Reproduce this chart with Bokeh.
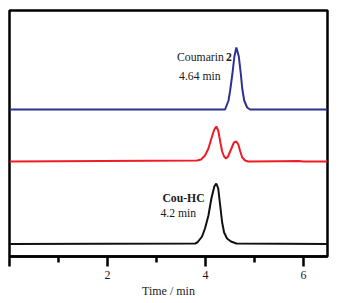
from bokeh.plotting import figure
from bokeh.models import Range1d, FixedTicker, Label
from bokeh.embed import file_html
from bokeh.resources import INLINE

# Chromatogram traces (time in min, signal in arbitrary units, offset per trace)
blue_t = [0.0, 4.40, 4.47, 4.50, 4.55, 4.59, 4.63, 4.68, 4.72, 4.75, 4.79, 4.85, 4.91, 6.49]
blue_y = [147, 147, 156, 165, 183, 200, 209, 200, 183, 168, 156, 149, 147, 147]

red_t = [0.0, 3.83, 3.91, 3.99, 4.06, 4.12, 4.18, 4.22, 4.26, 4.30, 4.34, 4.38, 4.42,
         4.46, 4.52, 4.58, 4.63, 4.67, 4.71, 4.75, 4.81, 4.87, 5.5, 5.9, 6.0, 6.49]
red_y = [95, 96, 97, 101, 108, 118, 127, 130, 126, 115, 105, 100, 98,
         100, 107, 114, 115, 112, 105, 99, 96, 95, 95.3, 95.5, 95, 95]

black_t = [0.0, 3.79, 3.83, 3.85, 3.93, 3.99, 4.06, 4.12, 4.18, 4.22, 4.26, 4.30,
           4.34, 4.38, 4.44, 4.52, 4.63, 6.49]
black_y = [12.5, 13, 14, 15, 20, 28, 41, 58, 70, 73, 68, 51,
           34, 24, 18, 15, 13, 12.5]

x_ticks = [0, 2, 4, 6]
x_minor = [1, 3, 5]
x_label = "Time / min"

FONT = "Liberation Serif"

p = figure(width=343, height=303, output_backend="svg", toolbar_location=None,
           x_range=Range1d(0, 6.49), y_range=Range1d(0, 246),
           y_axis_type=None, min_border_left=9, min_border_right=16,
           min_border_top=10, min_border_bottom=47)
p.background_fill_color = "white"
p.border_fill_color = "white"
p.grid.visible = False
p.outline_line_color = "black"
p.outline_line_width = 2.5

p.line(blue_t, blue_y, line_color="#2e3192", line_width=2)
p.line(red_t, red_y, line_color="#ee1c25", line_width=2)
p.line(black_t, black_y, line_color="#111111", line_width=2)

ax = p.xaxis[0]
ax.ticker = FixedTicker(ticks=x_ticks, minor_ticks=x_minor)
ax.major_label_overrides = {0: ""}
ax.axis_line_width = 2.5
ax.major_tick_line_width = 2.5
ax.minor_tick_line_width = 2.5
ax.major_tick_in = 0
ax.major_tick_out = 10
ax.minor_tick_in = 0
ax.minor_tick_out = 6
ax.major_label_standoff = 4
ax.major_label_text_font = FONT
ax.major_label_text_font_size = "12px"
ax.major_label_text_color = "#1a1a1a"
ax.axis_label = x_label
ax.axis_label_text_font = FONT
ax.axis_label_text_font_style = "normal"
ax.axis_label_text_font_size = "12px"
ax.axis_label_text_color = "#1a1a1a"
ax.axis_label_standoff = 2

def lab(x, y, text, bold=False):
    p.add_layout(Label(x=x, y=y, text=text, text_font=FONT, text_font_size="11.7px",
                       text_font_style="bold" if bold else "normal",
                       text_color="#1a1a1a", text_baseline="alphabetic"))

lab(3.42, 199.3, "Coumarin")
lab(4.42, 199.3, "2", bold=True)
lab(3.46, 180.3, "4.64 min")
lab(3.12, 58, "Cou-HC", bold=True)
lab(3.08, 43, "4.2 min")

open("out.html", "w").write(file_html(p, INLINE))
